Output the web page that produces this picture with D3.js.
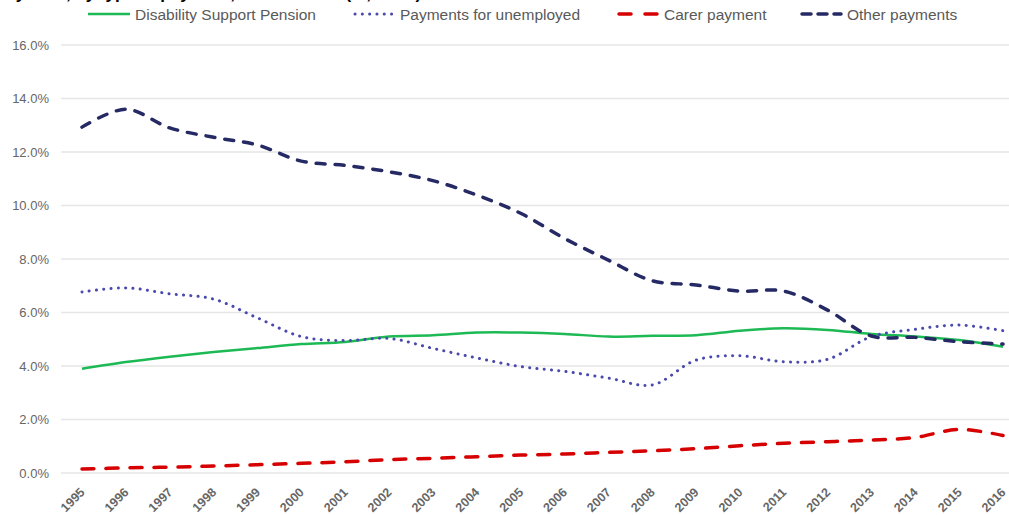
<!DOCTYPE html>
<html>
<head>
<meta charset="utf-8">
<script src="https://cdn.jsdelivr.net/npm/d3@7"></script>
<style>
  body { margin: 0; background: #fff; }
  svg { display: block; font-family: "Liberation Sans", Arial, sans-serif; }
</style>
</head>
<body>
<div id="chart"></div>
<script>
// years on the x axis
const years = [1995, 1996, 1997, 1998, 1999, 2000, 2001, 2002, 2003, 2004, 2005,
  2006, 2007, 2008, 2009, 2010, 2011, 2012, 2013, 2014, 2015, 2016]

// values, % of working-age population
const disability = [3.9, 4.15, 4.35, 4.52, 4.67, 4.82, 4.9, 5.1, 5.15, 5.25, 5.25,
  5.2, 5.1, 5.13, 5.15, 5.32, 5.41, 5.35, 5.2, 5.1, 4.97, 4.72]
const unemployed = [6.77, 6.92, 6.7, 6.5, 5.8, 5.1, 4.95, 5.03, 4.66, 4.3, 3.98,
  3.8, 3.55, 3.29, 4.22, 4.38, 4.16, 4.25, 5.1, 5.37, 5.53, 5.32]
const carer = [0.15, 0.19, 0.22, 0.26, 0.31, 0.36, 0.42, 0.5, 0.55, 0.61, 0.67,
  0.71, 0.77, 0.83, 0.91, 1.02, 1.11, 1.17, 1.23, 1.33, 1.63, 1.4]
const other = [12.93, 13.6, 12.9, 12.55, 12.26, 11.66, 11.5, 11.26, 10.93, 10.39, 9.71,
  8.77, 7.96, 7.19, 7.03, 6.8, 6.8, 6.09, 5.12, 5.07, 4.91, 4.82]

const yTicks = [0, 2, 4, 6, 8, 10, 12, 14, 16]

const seriesNames = ["Disability Support Pension", "Payments for unemployed", "Carer payment", "Other payments"]

const width = 1009
const height = 515

const svg = d3.select("#chart")
  .append("svg")
  .attr("width", width)
  .attr("height", height)

// title is mostly cut off at the top of the picture
svg.append("text")
  .attr("x", -4)
  .attr("y", -1)
  .style("font-size", "17px")
  .style("font-weight", "bold")
  .style("fill", "#000")
  .text("payment, by type of payment, 1995 to 2016 (%, June)")

const x = d3.scalePoint()
  .domain(years)
  .range([82, 1003])

const y = d3.scaleLinear()
  .domain([0, 16])
  .range([473, 45])

// gridlines
svg.append("g")
  .selectAll("line")
  .data(yTicks)
  .enter()
  .append("line")
  .attr("x1", 61)
  .attr("x2", width)
  .attr("y1", d => y(d))
  .attr("y2", d => y(d))
  .attr("stroke", "#e6e6e6")
  .attr("stroke-width", 1.5)

// y axis labels, no domain line
const yAxis = svg.append("g")
  .attr("transform", "translate(61,0)")
  .call(d3.axisLeft(y).tickValues(yTicks).tickSize(0).tickPadding(12).tickFormat(d => d.toFixed(1) + "%"))
yAxis.select(".domain").remove()
yAxis.selectAll("text")
  .style("font-family", "Liberation Sans, Arial, sans-serif")
  .style("font-size", "13px")
  .style("fill", "#666")

// x axis labels rotated
const xAxis = svg.append("g")
  .attr("transform", "translate(0,473)")
  .call(d3.axisBottom(x).tickSize(0).tickFormat(d => String(d)))
xAxis.select(".domain").remove()
xAxis.selectAll("text")
  .attr("text-anchor", "end")
  .attr("dy", null)
  .attr("y", 0)
  .attr("transform", "translate(3,20) rotate(-45)")
  .style("font-family", "Liberation Sans, Arial, sans-serif")
  .style("font-size", "12.5px")
  .style("font-weight", "bold")
  .style("fill", "#666")

const styles = [
  { color: "#1db954", width: 2.5, dash: null, cap: "butt", legendDash: null },
  { color: "#4a4aae", width: 3, dash: "0.1 7.2", cap: "round", legendDash: "0.1 7.2" },
  { color: "#d60000", width: 3.5, dash: "12 12", cap: "round", legendDash: "12 14" },
  { color: "#262a64", width: 3.5, dash: "9 10", cap: "round", legendDash: "9 7" }
]
const allSeries = [disability, unemployed, carer, other]

const line = d3.line()
  .x((d, i) => x(years[i]))
  .y(d => y(d))
  .curve(d3.curveCatmullRom.alpha(0.5))

allSeries.forEach((values, i) => {
  const s = styles[i]
  svg.append("path")
    .datum(values)
    .attr("d", line)
    .attr("fill", "none")
    .attr("stroke", s.color)
    .attr("stroke-width", s.width)
    .attr("stroke-linecap", s.cap)
    .attr("stroke-dasharray", s.dash)
})

// legend
const legendX = [88, 353, 617, 800]
const legend = svg.append("g")
seriesNames.forEach((name, i) => {
  const s = styles[i]
  legend.append("line")
    .attr("x1", legendX[i] + (s.cap === "round" ? 2 : 0))
    .attr("x2", legendX[i] + 42 - (s.cap === "round" ? 1 : 0))
    .attr("y1", 14)
    .attr("y2", 14)
    .attr("stroke", s.color)
    .attr("stroke-width", s.width)
    .attr("stroke-linecap", s.cap)
    .attr("stroke-dasharray", s.legendDash)
  legend.append("text")
    .attr("x", legendX[i] + 47)
    .attr("y", 19.5)
    .style("font-size", "15.5px")
    .style("fill", "#595959")
    .text(name)
})
</script>
</body>
</html>
